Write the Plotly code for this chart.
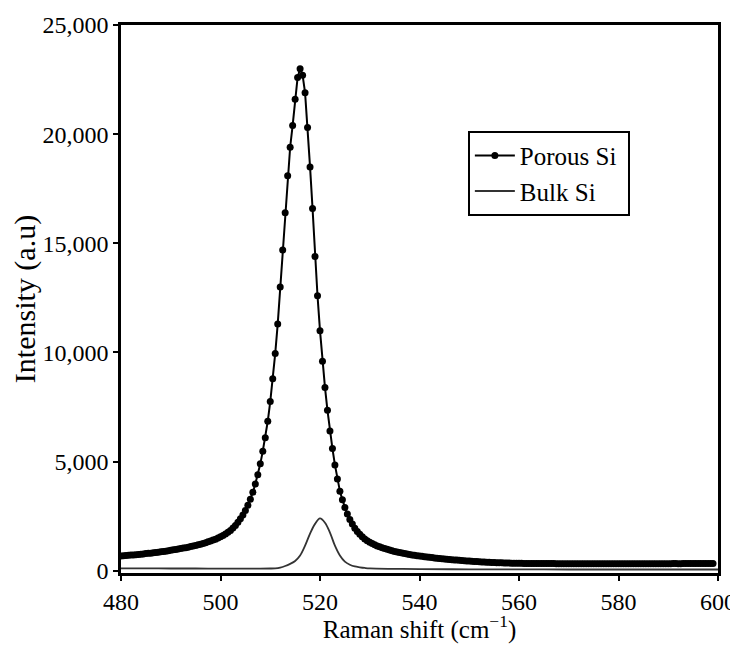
import plotly.graph_objects as go

# Porous Si Raman spectrum
porous_x = [480, 480.5, 481, 481.5, 482, 482.5, 483, 483.5, 484, 484.5, 485, 485.5, 486, 486.5,
            487, 487.5, 488, 488.5, 489, 489.5, 490, 490.5, 491, 491.5, 492, 492.5, 493, 493.5,
            494, 494.5, 495, 495.5, 496, 496.5, 497, 497.5, 498, 498.5, 499, 499.5, 500, 500.5,
            501, 501.5, 502, 502.5, 503,
            503.5, 504, 504.5, 505, 505.5, 506, 506.5, 507, 507.5, 508, 508.5, 509, 509.5,
            510, 510.5, 511, 511.5, 512, 512.5, 513, 513.5, 514, 514.5, 515, 515.5, 516,
            516.5, 517, 517.5, 518, 518.5, 519, 519.5, 520, 520.5, 521, 521.5, 522, 522.5,
            523, 523.5, 524, 524.5, 525, 525.5, 526, 526.5, 527, 527.5,
            528, 528.5, 529, 529.5, 530, 530.5, 531, 531.5, 532, 532.5, 533, 533.5, 534, 534.5,
            535, 535.5, 536, 536.5, 537, 537.5, 538, 538.5, 539, 539.5, 540, 540.5, 541, 541.5,
            542, 542.5, 543, 543.5, 544, 544.5, 545, 545.5, 546, 546.5, 547, 547.5, 548, 548.5,
            549, 549.5, 550, 550.5, 551, 551.5, 552, 552.5, 553, 553.5, 554, 554.5, 555, 555.5,
            556, 556.5, 557, 557.5, 558, 558.5, 559, 559.5, 560, 560.5, 561, 561.5, 562, 562.5,
            563, 563.5, 564, 564.5, 565, 565.5, 566, 566.5, 567, 567.5, 568, 568.5, 569, 569.5,
            570, 570.5, 571, 571.5, 572, 572.5, 573, 573.5, 574, 574.5, 575, 575.5, 576, 576.5,
            577, 577.5, 578, 578.5, 579, 579.5, 580, 580.5, 581, 581.5, 582, 582.5, 583, 583.5,
            584, 584.5, 585, 585.5, 586, 586.5, 587, 587.5, 588, 588.5, 589, 589.5, 590, 590.5,
            591, 591.5, 592, 592.5, 593, 593.5, 594, 594.5, 595, 595.5, 596, 596.5, 597, 597.5,
            598, 598.5, 599, 599.5, 600]
porous_y = [680, 690, 700, 710, 720, 730, 740, 750, 760, 775, 790, 800, 810, 825,
            840, 855, 870, 885, 900, 920, 940, 960, 980, 1000, 1020, 1040, 1060, 1085,
            1110, 1135, 1160, 1190, 1220, 1255, 1290, 1330, 1370, 1410, 1450, 1500, 1560, 1620,
            1690, 1770, 1850, 1960, 2080,
            2220, 2380, 2560, 2760, 3000, 3280, 3600, 3980, 4400, 4900, 5480, 6100, 6850,
            7750, 8800, 9950, 11300, 13000, 14700, 16400, 18100, 19400, 20400, 21600, 22600, 23000,
            22700, 21900, 20300, 18500, 16600, 14400, 12600, 11000, 9600, 8400, 7350, 6400, 5600,
            4850, 4200, 3650, 3250, 2900, 2600, 2350, 2150, 1950, 1800,
            1670, 1560, 1460, 1380, 1310, 1250, 1190, 1140, 1100, 1060, 1020, 985, 950, 920,
            890, 865, 840, 815, 790, 770, 750, 730, 710, 695, 680, 665, 650, 635,
            620, 605, 590, 578, 565, 552, 540, 530, 520, 510, 500, 490, 480, 470,
            460, 452, 445, 438, 430, 422, 415, 408, 400, 395, 390, 385, 380, 375,
            370, 365, 360, 358, 355, 352, 350, 348, 345, 343, 340, 340, 340, 338,
            335, 335, 335, 333, 330, 330, 330, 330, 330, 328, 325, 325, 325, 325,
            325, 322, 320, 320, 320, 320, 320, 320, 320, 320, 320, 320, 320, 320,
            320, 320, 320, 320, 320, 320, 320, 322, 324, 324, 322, 320, 320, 322,
            325, 325, 325, 325, 322, 325, 325, 328, 328, 325, 325, 325, 325, 328,
            330, 330, 328, 328, 330, 330, 330, 330, 332, 332, 330, 330, 330, 330,
            330, 330, 330]

# Bulk Si Raman spectrum
bulk_x = [480, 485, 490, 495, 500, 505, 508, 510, 511, 512, 513, 514, 515, 516, 517, 518,
          519, 520, 521, 522, 523, 524, 525, 526, 527, 528, 529, 530, 535, 540, 550, 560,
          570, 580, 590, 600]
bulk_y = [110, 110, 105, 105, 100, 100, 100, 105, 115, 150, 220, 320, 450, 700, 1150, 1700,
          2150, 2400, 2200, 1750, 1150, 700, 420, 280, 200, 160, 130, 110, 90, 80, 70, 65,
          60, 60, 60, 60]

x_ticks = [480, 500, 520, 540, 560, 580, 600]
y_ticks = [0, 5000, 10000, 15000, 20000, 25000]
series_names = ["Porous Si\u00a0", "Bulk Si"]

serif = "Liberation Serif, Times New Roman, serif"

fig = go.Figure()
fig.add_trace(go.Scatter(
    x=porous_x, y=porous_y, mode="lines+markers", name=series_names[0],
    line=dict(color="black", width=2),
    marker=dict(symbol="circle", size=7, color="black"),
))
fig.add_trace(go.Scatter(
    x=bulk_x, y=bulk_y, mode="lines", name=series_names[1],
    line=dict(color="#333333", width=1.8, shape="spline"),
))

# the page body adds an 8px offset, so the figure is drawn smaller to avoid overflow
fig.update_layout(
    width=730, height=636,
    margin=dict(l=113, r=20, t=17, b=71),
    paper_bgcolor="white", plot_bgcolor="white",
    font=dict(family=serif, size=24, color="black"),
    showlegend=True,
    legend=dict(
        x=0.581, y=0.807, xanchor="left", yanchor="top",
        bordercolor="black", borderwidth=2, bgcolor="white",
        font=dict(family=serif, size=25, color="black"),
        tracegroupgap=0, itemwidth=40,
    ),
    xaxis=dict(
        range=[480, 600], tickvals=x_ticks, automargin=False,
        showgrid=False, zeroline=False,
        showline=True, linecolor="black", linewidth=2.5, mirror=True,
        ticks="outside", ticklen=5, tickwidth=2, tickcolor="black",
        tickfont=dict(family=serif, size=24, color="black"),
        title=dict(text="Raman shift (cm<sup>−1</sup>)",
                   font=dict(family=serif, size=25, color="black"), standoff=6),
    ),
    yaxis=dict(
        range=[-100, 25000], tickvals=y_ticks, tickformat=",", automargin=False,
        showgrid=False, zeroline=False,
        showline=True, linecolor="black", linewidth=2.5, mirror=True,
        ticks="outside", ticklen=5, tickwidth=2, tickcolor="black",
        tickfont=dict(family=serif, size=24, color="black"),
        title=dict(text="Intensity (a.u)",
                   font=dict(family=serif, size=30, color="black"), standoff=4),
    ),
)

fig.write_html("out.html")
